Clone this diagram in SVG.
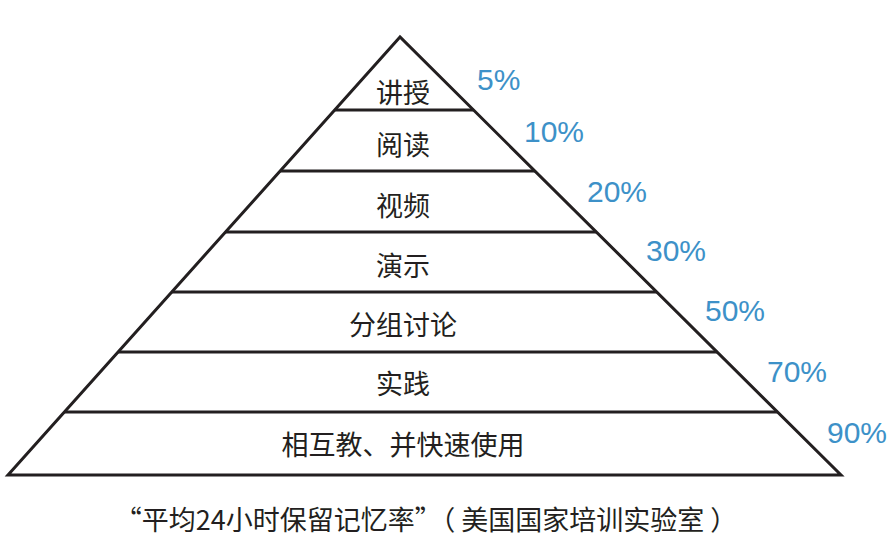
<svg xmlns="http://www.w3.org/2000/svg" width="893" height="545" viewBox="0 0 893 545">
<style>
.ln{stroke:#231f20;stroke-width:3;fill:none;stroke-linejoin:miter}
.lb{font-family:"Noto Sans CJK SC","Noto Sans",sans-serif;font-size:27px;fill:#231f20;text-anchor:middle;dominant-baseline:central}
.pc{font-family:"Liberation Sans","Noto Sans",sans-serif;font-size:30px;fill:#3d91c8}
.cap{font-family:"Noto Sans CJK SC","Noto Sans",sans-serif;font-size:27px;fill:#231f20;text-anchor:middle;dominant-baseline:central}
</style>
<rect width="893" height="545" fill="#ffffff"/>
<g id="connectors">
<path class="ln" d="M400,37 L8,475 L841,475 Z"/>
<line class="ln" x1="334.7" y1="110" x2="473.5" y2="110"/>
<line class="ln" x1="280.1" y1="171" x2="534.9" y2="171"/>
<line class="ln" x1="225.5" y1="232" x2="596.4" y2="232"/>
<line class="ln" x1="171.8" y1="292" x2="656.8" y2="292"/>
<line class="ln" x1="118.1" y1="352" x2="717.2" y2="352"/>
<line class="ln" x1="64.4" y1="412" x2="777.6" y2="412"/>
</g>
<g id="level1"><text class="lb" x="403" y="91">讲授</text><text class="pc" x="477" y="90">5%</text></g>
<g id="level2"><text class="lb" x="403" y="143">阅读</text><text class="pc" x="524" y="142">10%</text></g>
<g id="level3"><text class="lb" x="403" y="204">视频</text><text class="pc" x="587" y="202">20%</text></g>
<g id="level4"><text class="lb" x="403" y="264">演示</text><text class="pc" x="646" y="261">30%</text></g>
<g id="level5"><text class="lb" x="403" y="323">分组讨论</text><text class="pc" x="705" y="321">50%</text></g>
<g id="level6"><text class="lb" x="403" y="382">实践</text><text class="pc" x="767" y="382">70%</text></g>
<g id="level7"><text class="lb" x="403" y="443">相互教、并快速使用</text><text class="pc" x="827" y="443">90%</text></g>
<g id="caption"><text class="cap" x="426" y="518">“平均24小时保留记忆率”（ 美国国家培训实验室 ）</text></g>
</svg>
